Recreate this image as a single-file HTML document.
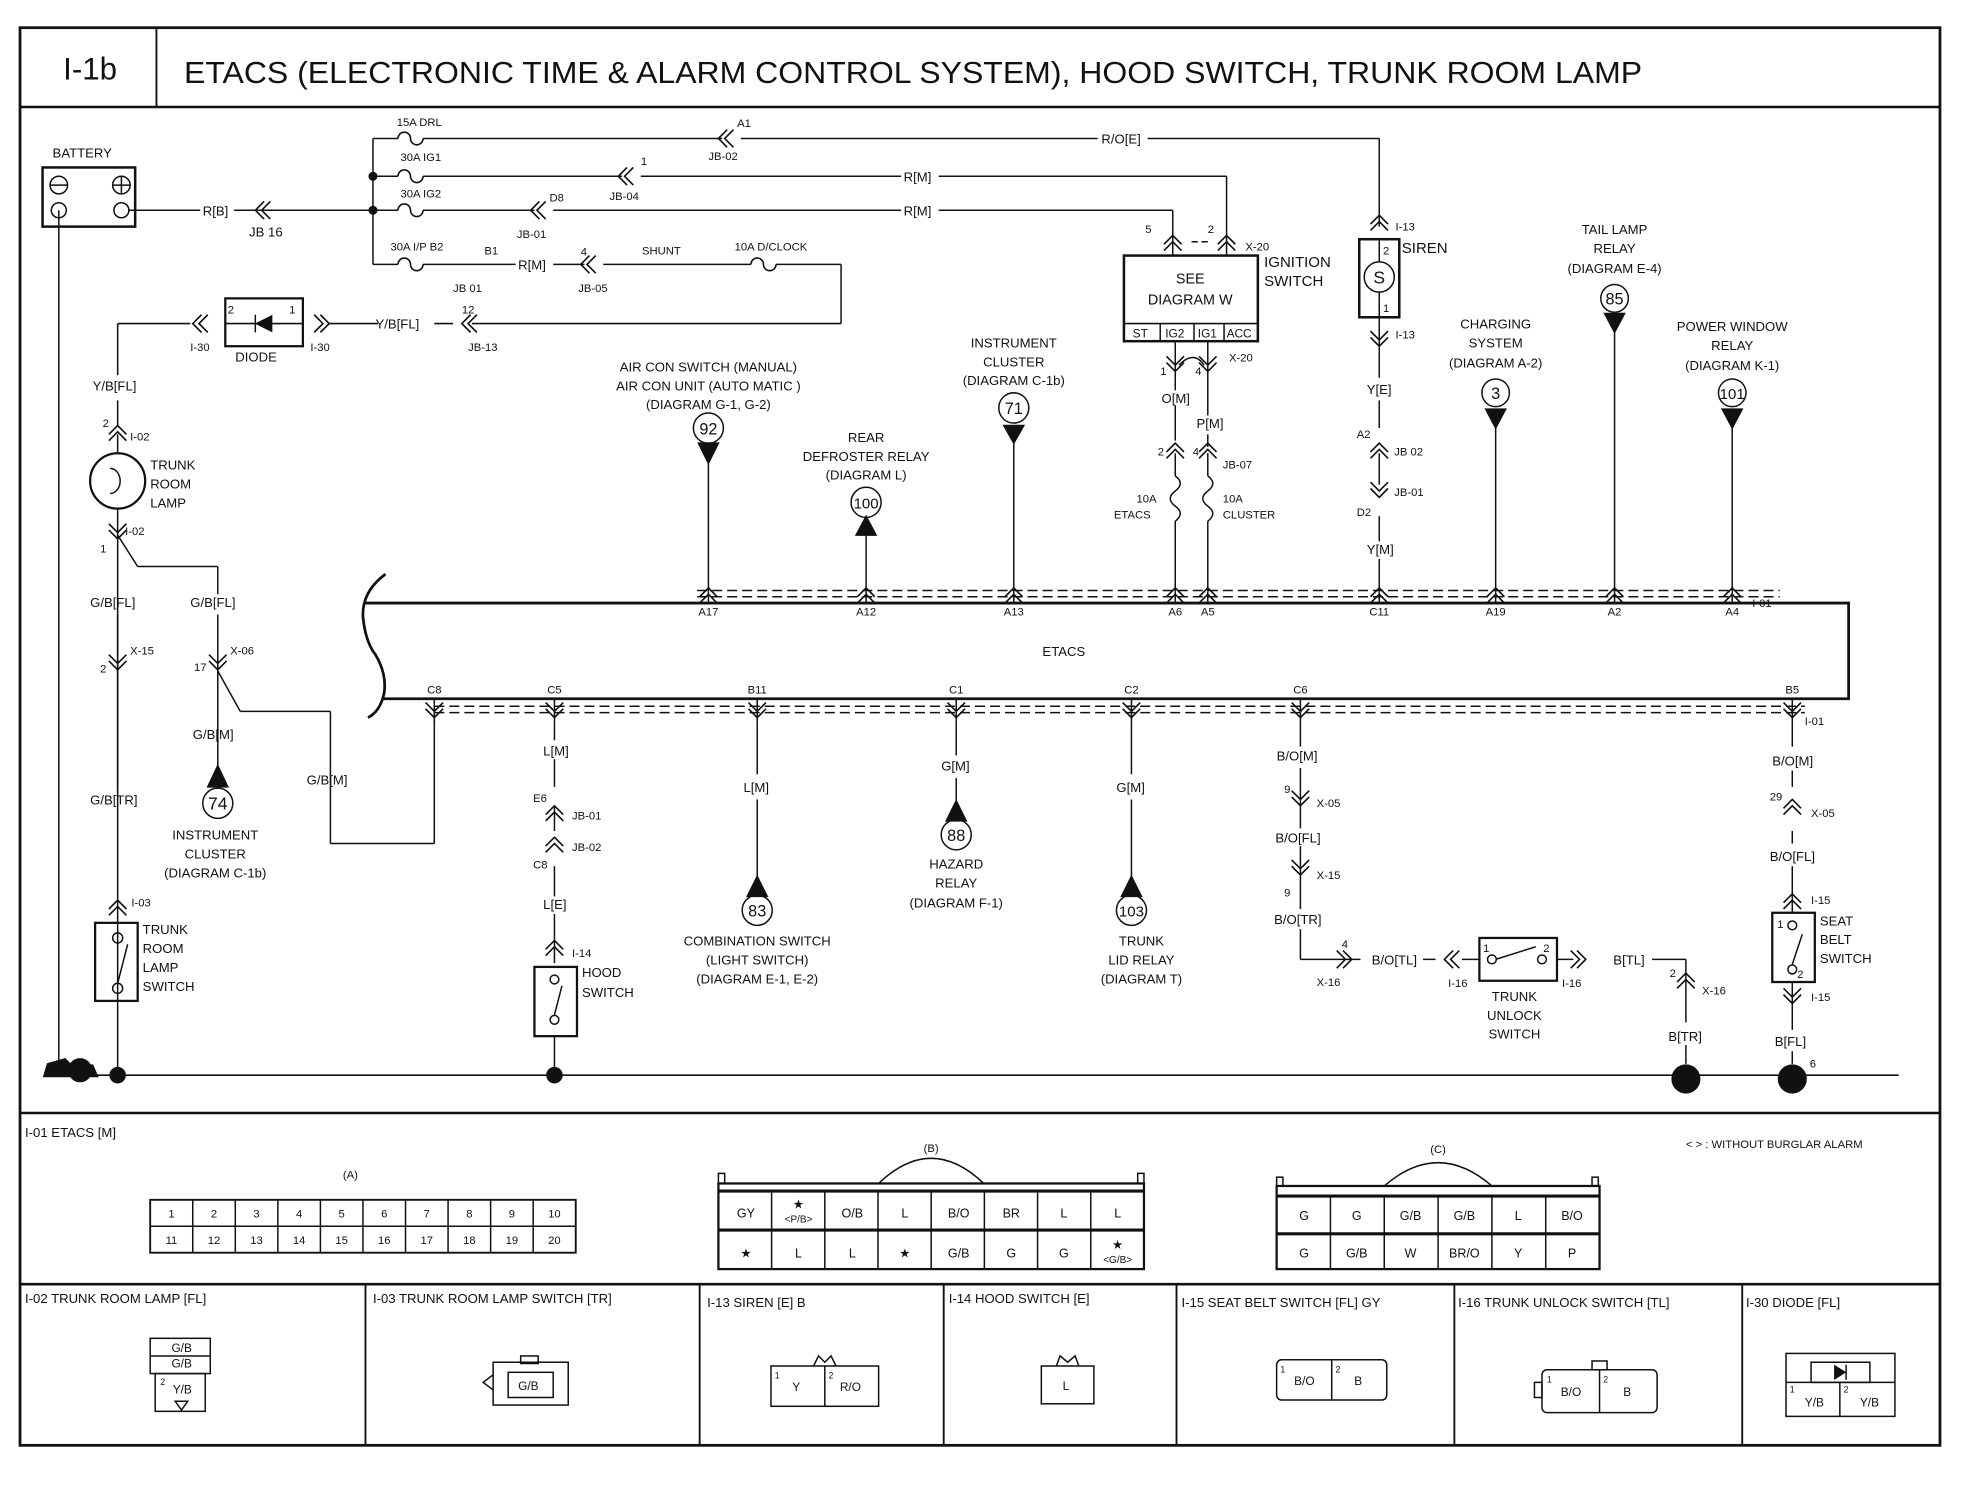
<!DOCTYPE html>
<html><head><meta charset="utf-8"><style>
html,body{margin:0;padding:0;background:#fff}
svg{display:block}
text{font-family:"Liberation Sans",sans-serif;fill:#111}
</style></head><body>
<svg width="1964" height="1504" viewBox="0 0 1964 1504" xmlns="http://www.w3.org/2000/svg">
<defs>
<path id="cv" d="M-7,-7 L0,0 L7,-7 M-7,-2 L0,5 L7,-2" fill="none" stroke="#111" stroke-width="1.3"/>
<path id="cu" d="M-7,7 L0,0 L7,7 M-7,2 L0,-5 L7,2" fill="none" stroke="#111" stroke-width="1.3"/>
<path id="cl" d="M4,-7 L-3,0 L4,7 M9,-7 L2,0 L9,7" fill="none" stroke="#111" stroke-width="1.3"/>
<path id="cr" d="M-4,-7 L3,0 L-4,7 M-9,-7 L-2,0 L-9,7" fill="none" stroke="#111" stroke-width="1.3"/>
<path id="fuse" d="M0,0 a5,5 0 1,1 10,0 a5,5 0 1,0 10,0" fill="none" stroke="#111" stroke-width="1.3"/>
</defs>
<g transform="translate(2.5,0) scale(1.2516,1.259)" stroke="#111" fill="none" stroke-width="1.2">
<!-- frame -->
<rect x="14" y="22" width="1534" height="1126" stroke-width="2.2"/>
<line x1="14" y1="85" x2="1548" y2="85" stroke-width="2"/>
<line x1="123" y1="22" x2="123" y2="85" stroke-width="1.5"/>
<g stroke="none">
<text x="70" y="63" font-size="25" text-anchor="middle">I-1b</text>
<text x="145" y="66" font-size="24" textLength="1165" lengthAdjust="spacingAndGlyphs">ETACS (ELECTRONIC TIME &amp; ALARM CONTROL SYSTEM), HOOD SWITCH, TRUNK ROOM LAMP</text>
</g>

<!-- battery -->
<rect x="32" y="133" width="74" height="47" stroke-width="2"/>
<circle cx="45" cy="147" r="7"/><line x1="38" y1="147" x2="52" y2="147"/>
<circle cx="95" cy="147" r="7"/><line x1="88" y1="147" x2="102" y2="147"/><line x1="95" y1="140" x2="95" y2="154"/>
<circle cx="45" cy="167" r="6"/><circle cx="95" cy="167" r="6"/>
<line x1="101" y1="167" x2="158" y2="167"/><line x1="185" y1="167" x2="296" y2="167"/>
<use href="#cl" x="205" y="167"/>
<line x1="45" y1="167" x2="45" y2="854"/>
<!-- fuse bus -->
<line x1="296" y1="110" x2="296" y2="210"/>
<circle cx="296" cy="140" r="3" fill="#111"/><circle cx="296" cy="167" r="3" fill="#111"/>
<line x1="296" y1="110" x2="316" y2="110"/><use href="#fuse" x="316" y="110"/><line x1="336" y1="110" x2="575" y2="110"/><line x1="590" y1="110" x2="875" y2="110"/><line x1="915" y1="110" x2="1100" y2="110"/><line x1="1100" y1="110" x2="1100" y2="180"/>
<use href="#cl" x="575" y="110"/>
<line x1="296" y1="140" x2="316" y2="140"/><use href="#fuse" x="316" y="140"/><line x1="336" y1="140" x2="495" y2="140"/><line x1="510" y1="140" x2="718" y2="140"/><line x1="748" y1="140" x2="978" y2="140"/><line x1="978" y1="140" x2="978" y2="203"/>
<use href="#cl" x="495" y="140"/>
<line x1="296" y1="167" x2="316" y2="167"/><use href="#fuse" x="316" y="167"/><line x1="336" y1="167" x2="425" y2="167"/><line x1="440" y1="167" x2="718" y2="167"/><line x1="748" y1="167" x2="935" y2="167"/><line x1="935" y1="167" x2="935" y2="203"/>
<use href="#cl" x="425" y="167"/>
<line x1="296" y1="210" x2="316" y2="210"/><use href="#fuse" x="316" y="210"/><line x1="336" y1="210" x2="410" y2="210"/><line x1="440" y1="210" x2="465" y2="210"/><line x1="480" y1="210" x2="598" y2="210"/>
<use href="#cl" x="465" y="210"/>
<use href="#fuse" x="598" y="210"/><line x1="618" y1="210" x2="670" y2="210"/><line x1="670" y1="210" x2="670" y2="257"/>
<line x1="670" y1="257" x2="375" y2="257"/><line x1="360" y1="257" x2="345" y2="257"/><line x1="300" y1="257" x2="260" y2="257"/>
<use href="#cl" x="370" y="257"/>
<!-- diode -->
<rect x="178" y="237" width="62" height="38" stroke-width="1.8"/>
<line x1="178" y1="257" x2="240" y2="257"/>
<path d="M215,251 L203,257 L215,263 Z" fill="#111"/><line x1="202" y1="250" x2="202" y2="264"/>
<use href="#cl" x="155" y="257"/><use href="#cr" x="258" y="257"/>
<line x1="92" y1="257" x2="150" y2="257"/>
<line x1="92" y1="257" x2="92" y2="298"/>
<line x1="92" y1="318" x2="92" y2="338"/><use href="#cu" x="92" y="343"/>
<line x1="92" y1="345" x2="92" y2="360"/>
<circle cx="92" cy="382" r="22" stroke-width="1.8"/>
<path d="M86,372 a8,10 0 1,1 0,20" /><line x1="92" y1="404" x2="92" y2="418"/>
<use href="#cv" x="92" y="423"/>
<line x1="92" y1="418" x2="92" y2="854"/>
<line x1="92" y1="425" x2="108" y2="450"/><line x1="108" y1="450" x2="172" y2="450"/><line x1="172" y1="450" x2="172" y2="472"/>
<line x1="172" y1="488" x2="172" y2="622"/><use href="#cv" x="172" y="527"/>
<line x1="172" y1="533" x2="190" y2="565"/><line x1="190" y1="565" x2="262" y2="565"/><line x1="262" y1="565" x2="262" y2="670"/><line x1="262" y1="670" x2="345" y2="670"/><line x1="345" y1="670" x2="345" y2="560"/>
<line x1="92" y1="488" x2="92" y2="628"/><use href="#cv" x="92" y="527"/>
<path d="M164,625 L172,608 L180,625 Z" fill="#111"/><circle cx="172" cy="638" r="12"/>
<!-- trunk room lamp switch -->
<use href="#cu" x="92" y="720"/>
<rect x="74" y="733" width="34" height="62" stroke-width="1.8"/>
<circle cx="92" cy="745" r="4"/><circle cx="92" cy="785" r="4"/><line x1="92" y1="781" x2="100" y2="750"/>
<!-- ground -->
<line x1="45" y1="854" x2="1515" y2="854"/>
<path d="M33,855 L36,845 L50,841 L55,846 L72,846 L76,855 Z" fill="#111"/><circle cx="62" cy="850" r="9" fill="#111"/>
<circle cx="92" cy="854" r="6" fill="#111"/><circle cx="441" cy="854" r="6" fill="#111"/>

<!-- ignition switch -->
<rect x="896" y="203" width="107" height="68" stroke-width="2"/>
<line x1="896" y1="257" x2="1003" y2="257"/>
<line x1="925" y1="257" x2="925" y2="271"/><line x1="952" y1="257" x2="952" y2="271"/><line x1="976" y1="257" x2="976" y2="271"/>
<use href="#cu" x="935" y="192"/><use href="#cu" x="978" y="192"/>
<line x1="950" y1="192" x2="965" y2="192" stroke-dasharray="5,3"/>
<use href="#cv" x="937" y="290"/><use href="#cv" x="963" y="290"/>
<path d="M940,290 q12,-12 20,0"/>
<line x1="937" y1="271" x2="937" y2="310"/><line x1="963" y1="271" x2="963" y2="330"/>
<line x1="937" y1="322" x2="937" y2="350"/><line x1="963" y1="345" x2="963" y2="355"/>
<use href="#cu" x="937" y="357"/><use href="#cu" x="963" y="357"/>
<line x1="937" y1="360" x2="937" y2="378"/><line x1="963" y1="360" x2="963" y2="378"/>
<path d="M937,378 q8,6 0,12 q-8,6 0,12 q8,6 0,12"/><path d="M963,378 q8,6 0,12 q-8,6 0,12 q8,6 0,12"/>
<line x1="937" y1="414" x2="937" y2="470"/><line x1="963" y1="414" x2="963" y2="470"/>
<!-- siren -->
<use href="#cu" x="1100" y="176"/>
<rect x="1084" y="190" width="32" height="62" stroke-width="2"/>
<circle cx="1100" cy="220" r="12"/><line x1="1100" y1="190" x2="1100" y2="208"/><line x1="1100" y1="232" x2="1100" y2="252"/>
<use href="#cv" x="1100" y="270"/>
<line x1="1100" y1="252" x2="1100" y2="300"/><line x1="1100" y1="318" x2="1100" y2="340"/><line x1="1100" y1="410" x2="1100" y2="430"/><line x1="1100" y1="444" x2="1100" y2="470"/>
<use href="#cu" x="1100" y="357"/><use href="#cv" x="1100" y="390"/>
<line x1="1100" y1="360" x2="1100" y2="385"/>
<!-- upper feed wires -->
<line x1="564" y1="368" x2="564" y2="470"/><path d="M556,352 L564,368 L572,352 Z" fill="#111"/><circle cx="564" cy="340" r="12"/>
<line x1="690" y1="425" x2="690" y2="470"/><path d="M682,425 L690,410 L698,425 Z" fill="#111"/><circle cx="690" cy="399" r="12"/>
<line x1="808" y1="350" x2="808" y2="470"/><path d="M800,338 L808,352 L816,338 Z" fill="#111"/><circle cx="808" cy="324" r="12"/>
<line x1="1193" y1="338" x2="1193" y2="470"/><path d="M1185,325 L1193,340 L1201,325 Z" fill="#111"/><circle cx="1193" cy="312" r="11"/>
<line x1="1288" y1="262" x2="1288" y2="470"/><path d="M1280,249 L1288,264 L1296,249 Z" fill="#111"/><circle cx="1288" cy="237" r="11"/>
<line x1="1382" y1="338" x2="1382" y2="470"/><path d="M1374,325 L1382,340 L1390,325 Z" fill="#111"/><circle cx="1382" cy="312" r="11"/>
<!-- ETACS -->
<path d="M290,479 L1475,479 L1475,555 L335,555" stroke-width="2.2"/>
<path d="M306,456 Q287,470 288,490 Q290,510 298,520 Q307,535 305,550 Q302,565 292,570" stroke-width="2.2"/>
<line x1="303" y1="555" x2="335" y2="555" stroke-width="2.2"/>
<line x1="555" y1="469" x2="1420" y2="469" stroke-dasharray="8,4"/>
<line x1="555" y1="474" x2="1420" y2="474" stroke-dasharray="8,4"/>
<line x1="345" y1="561" x2="1440" y2="561" stroke-dasharray="8,4"/>
<line x1="345" y1="566" x2="1440" y2="566" stroke-dasharray="8,4"/>
<g>
<use href="#cu" x="564" y="472"/><use href="#cu" x="690" y="472"/><use href="#cu" x="808" y="472"/><use href="#cu" x="937" y="472"/><use href="#cu" x="963" y="472"/><use href="#cu" x="1100" y="472"/><use href="#cu" x="1193" y="472"/><use href="#cu" x="1288" y="472"/><use href="#cu" x="1382" y="472"/>
<use href="#cv" x="345" y="565"/><use href="#cv" x="441" y="565"/><use href="#cv" x="603" y="565"/><use href="#cv" x="762" y="565"/><use href="#cv" x="902" y="565"/><use href="#cv" x="1037" y="565"/><use href="#cv" x="1430" y="565"/>
</g>
<line x1="564" y1="470" x2="564" y2="479"/><line x1="690" y1="470" x2="690" y2="479"/><line x1="808" y1="470" x2="808" y2="479"/><line x1="937" y1="470" x2="937" y2="479"/><line x1="963" y1="470" x2="963" y2="479"/><line x1="1100" y1="470" x2="1100" y2="479"/><line x1="1193" y1="470" x2="1193" y2="479"/><line x1="1288" y1="470" x2="1288" y2="479"/><line x1="1382" y1="470" x2="1382" y2="479"/>
<path d="M345,555v20M441,555v20M603,555v20M762,555v20M902,555v20M1037,555v20M1430,555v20"/>
<!-- lower feed wires -->
<line x1="441" y1="575" x2="441" y2="588"/><line x1="441" y1="603" x2="441" y2="625"/><line x1="441" y1="640" x2="441" y2="660"/><line x1="441" y1="688" x2="441" y2="712"/><line x1="441" y1="726" x2="441" y2="765"/>
<use href="#cu" x="441" y="645"/><use href="#cu" x="441" y="670"/><use href="#cu" x="441" y="752"/>
<rect x="425" y="768" width="34" height="55" stroke-width="1.8"/>
<circle cx="441" cy="778" r="3.5"/><circle cx="441" cy="810" r="3.5"/><line x1="441" y1="806" x2="447" y2="783"/>
<line x1="441" y1="823" x2="441" y2="854"/>
<line x1="603" y1="575" x2="603" y2="615"/><line x1="603" y1="635" x2="603" y2="700"/><path d="M595,712 L603,696 L611,712 Z" fill="#111"/><circle cx="603" cy="723" r="12"/>
<line x1="762" y1="575" x2="762" y2="600"/><line x1="762" y1="618" x2="762" y2="640"/><path d="M754,652 L762,636 L770,652 Z" fill="#111"/><circle cx="762" cy="663" r="12"/>
<line x1="902" y1="575" x2="902" y2="615"/><line x1="902" y1="635" x2="902" y2="700"/><path d="M894,712 L902,696 L910,712 Z" fill="#111"/><circle cx="902" cy="723" r="12"/>
<!-- B/O trunk unlock -->
<line x1="1037" y1="575" x2="1037" y2="593"/><line x1="1037" y1="610" x2="1037" y2="658"/><line x1="1037" y1="672" x2="1037" y2="722"/><line x1="1037" y1="738" x2="1037" y2="762"/>
<use href="#cv" x="1037" y="635"/><use href="#cv" x="1037" y="690"/>
<line x1="1037" y1="762" x2="1085" y2="762"/><use href="#cr" x="1075" y="762"/>
<line x1="1135" y1="762" x2="1145" y2="762"/><use href="#cl" x="1155" y="762"/>
<rect x="1180" y="745" width="62" height="34" stroke-width="1.8"/>
<circle cx="1190" cy="762" r="3.5"/><circle cx="1230" cy="762" r="3.5"/><line x1="1193" y1="762" x2="1225" y2="752"/>
<line x1="1166" y1="762" x2="1180" y2="762"/><line x1="1242" y1="762" x2="1255" y2="762"/><use href="#cr" x="1262" y="762"/>
<line x1="1318" y1="762" x2="1345" y2="762"/><line x1="1345" y1="762" x2="1345" y2="812"/><line x1="1345" y1="830" x2="1345" y2="845"/>
<use href="#cu" x="1345" y="778"/>
<circle cx="1345" cy="857" r="11" fill="#111"/>
<!-- seat belt -->
<line x1="1430" y1="575" x2="1430" y2="593"/><line x1="1430" y1="612" x2="1430" y2="625"/><line x1="1430" y1="660" x2="1430" y2="670"/><line x1="1430" y1="688" x2="1430" y2="725"/>
<use href="#cu" x="1430" y="640"/><use href="#cu" x="1430" y="715"/>
<rect x="1414" y="725" width="34" height="55" stroke-width="1.8"/>
<circle cx="1430" cy="735" r="3.5"/><circle cx="1430" cy="770" r="3.5"/><line x1="1430" y1="766" x2="1438" y2="742"/>
<line x1="1430" y1="780" x2="1430" y2="818"/><line x1="1430" y1="835" x2="1430" y2="845"/><use href="#cv" x="1430" y="792"/>
<circle cx="1430" cy="857" r="11" fill="#111"/>

<!-- lower tables -->
<line x1="14" y1="884" x2="1548" y2="884" stroke-width="2"/>
<line x1="14" y1="1020" x2="1548" y2="1020" stroke-width="2"/>
<line x1="290" y1="1020" x2="290" y2="1148" stroke-width="1.5"/><line x1="557" y1="1020" x2="557" y2="1148" stroke-width="1.5"/><line x1="752" y1="1020" x2="752" y2="1148" stroke-width="1.5"/><line x1="938" y1="1020" x2="938" y2="1148" stroke-width="1.5"/><line x1="1160" y1="1020" x2="1160" y2="1148" stroke-width="1.5"/><line x1="1390" y1="1020" x2="1390" y2="1148" stroke-width="1.5"/>
<!-- A grid -->
<rect x="118" y="953" width="340" height="42" stroke-width="1.5"/>
<line x1="118" y1="974" x2="458" y2="974"/>
<path d="M152,953v42M186,953v42M220,953v42M254,953v42M288,953v42M322,953v42M356,953v42M390,953v42M424,953v42"/>
<!-- B grid -->
<rect x="572" y="940" width="340" height="68" stroke-width="1.8"/>
<rect x="572" y="932" width="5" height="8"/><rect x="907" y="932" width="5" height="8"/>
<line x1="572" y1="946" x2="912" y2="946" stroke-width="2.5"/><line x1="572" y1="977" x2="912" y2="977" stroke-width="2.5"/>
<path d="M614.5,946v62M657,946v62M699.5,946v62M742,946v62M784.5,946v62M827,946v62M869.5,946v62"/>
<path d="M700,940 Q742,900 784,940"/>
<!-- C grid -->
<rect x="1018" y="942" width="258" height="66" stroke-width="1.8"/>
<rect x="1018" y="935" width="5" height="7"/><rect x="1270" y="935" width="5" height="7"/>
<line x1="1018" y1="950" x2="1276" y2="950" stroke-width="2.5"/><line x1="1018" y1="980" x2="1276" y2="980" stroke-width="2.5"/>
<path d="M1061,950v58M1104,950v58M1147,950v58M1190,950v58M1233,950v58"/>
<path d="M1104,942 Q1147,905 1190,942"/>
<!-- small connectors -->
<rect x="118" y="1063" width="48" height="28"/><line x1="118" y1="1077" x2="166" y2="1077"/>
<rect x="122" y="1091" width="40" height="30"/><path d="M138,1113 l5,7 l5,-7z"/>
<rect x="392" y="1082" width="60" height="34"/><rect x="404" y="1090" width="36" height="20"/><rect x="414" y="1077" width="14" height="6"/><path d="M392,1092 l-8,6 l8,6"/>
<rect x="614" y="1085" width="86" height="32"/><line x1="657" y1="1085" x2="657" y2="1117"/><path d="M648,1085 l4,-8 l5,5 l5,-5 l4,8"/>
<rect x="830" y="1085" width="42" height="30"/><path d="M842,1085 l3,-8 l6,5 l6,-5 l3,8"/>
<rect x="1018" y="1080" width="88" height="32" rx="4"/><line x1="1062" y1="1080" x2="1062" y2="1112"/>
<rect x="1230" y="1088" width="92" height="34" rx="4"/><line x1="1276" y1="1088" x2="1276" y2="1122"/><rect x="1270" y="1081" width="12" height="7"/><rect x="1224" y="1098" width="6" height="12"/>
<rect x="1425" y="1075" width="87" height="50"/><line x1="1425" y1="1098" x2="1512" y2="1098"/><line x1="1468" y1="1098" x2="1468" y2="1125"/><rect x="1445" y="1082" width="47" height="16"/><path d="M1464,1085 l8,5 l-8,5z" fill="#111"/><line x1="1473" y1="1084" x2="1473" y2="1096"/>
</g>

<g transform="translate(2.5,0) scale(1.2516,1.259)" font-size="10.5">
<text x="40" y="125">BATTERY</text>
<text x="160" y="171">R[B]</text><text x="197" y="188">JB 16</text>
<text x="315" y="100" font-size="9">15A DRL</text><text x="587" y="101" font-size="9">A1</text><text x="564" y="127" font-size="9">JB-02</text><text x="878" y="114">R/O[E]</text>
<text x="318" y="128" font-size="9">30A IG1</text><text x="510" y="131" font-size="9">1</text><text x="485" y="159" font-size="9">JB-04</text><text x="720" y="144">R[M]</text>
<text x="318" y="157" font-size="9">30A IG2</text><text x="437" y="160" font-size="9">D8</text><text x="411" y="189" font-size="9">JB-01</text><text x="720" y="171">R[M]</text>
<text x="310" y="199" font-size="9">30A I/P B2</text><text x="385" y="202" font-size="9">B1</text><text x="360" y="232" font-size="9">JB 01</text><text x="412" y="214">R[M]</text><text x="462" y="203" font-size="9">4</text><text x="460" y="232" font-size="9">JB-05</text>
<text x="511" y="202" font-size="9">SHUNT</text><text x="585" y="199" font-size="9">10A D/CLOCK</text>
<text x="367" y="249" font-size="9">12</text><text x="372" y="279" font-size="9">JB-13</text><text x="298" y="261">Y/B[FL]</text>
<text x="180" y="249" font-size="9">2</text><text x="229" y="249" font-size="9">1</text><text x="186" y="287">DIODE</text><text x="150" y="279" font-size="9">I-30</text><text x="246" y="279" font-size="9">I-30</text>
<text x="72" y="310">Y/B[FL]</text><text x="80" y="339" font-size="9">2</text><text x="102" y="350" font-size="9">I-02</text>
<text x="118" y="373">TRUNK</text><text x="118" y="388">ROOM</text><text x="118" y="403">LAMP</text>
<text x="78" y="439" font-size="9">1</text><text x="98" y="425" font-size="9">I-02</text>
<text x="70" y="482">G/B[FL]</text><text x="150" y="482">G/B[FL]</text>
<text x="102" y="520" font-size="9">X-15</text><text x="78" y="534" font-size="9">2</text>
<text x="182" y="520" font-size="9">X-06</text><text x="153" y="533" font-size="9">17</text>
<text x="152" y="587">G/B[M]</text><text x="243" y="623">G/B[M]</text><text x="70" y="639">G/B[TR]</text>
<text x="172" y="643" font-size="14" text-anchor="middle">74</text>
<text x="170" y="667" text-anchor="middle">INSTRUMENT</text><text x="170" y="682" text-anchor="middle">CLUSTER</text><text x="170" y="697" text-anchor="middle">(DIAGRAM C-1b)</text>
<text x="103" y="720" font-size="9">I-03</text>
<text x="112" y="742">TRUNK</text><text x="112" y="757">ROOM</text><text x="112" y="772">LAMP</text><text x="112" y="787">SWITCH</text>
<text x="62" y="855" font-size="11" text-anchor="middle" fill="#fff">G</text>

<text x="949" y="225" font-size="11.5" text-anchor="middle">SEE</text><text x="949" y="242" font-size="11.5" text-anchor="middle">DIAGRAM  W</text>
<text x="903" y="268" font-size="9.5">ST</text><text x="929" y="268" font-size="9.5">IG2</text><text x="955" y="268" font-size="9.5">IG1</text><text x="978" y="268" font-size="9.5">ACC</text>
<text x="913" y="185" font-size="9">5</text><text x="963" y="185" font-size="9">2</text><text x="993" y="199" font-size="9">X-20</text>
<text x="1008" y="212" font-size="12">IGNITION</text><text x="1008" y="227" font-size="12">SWITCH</text>
<text x="925" y="298" font-size="9">1</text><text x="953" y="298" font-size="9">4</text><text x="980" y="287" font-size="9">X-20</text>
<text x="926" y="320">O[M]</text><text x="954" y="340">P[M]</text>
<text x="923" y="362" font-size="9">2</text><text x="951" y="362" font-size="9">4</text><text x="975" y="372" font-size="9">JB-07</text>
<text x="906" y="399" font-size="9">10A</text><text x="888" y="412" font-size="9">ETACS</text><text x="975" y="399" font-size="9">10A</text><text x="975" y="412" font-size="9">CLUSTER</text>
<text x="1113" y="183" font-size="9">I-13</text><text x="1103" y="202" font-size="9">2</text><text x="1118" y="201" font-size="12">SIREN</text>
<text x="1100" y="225" font-size="14" text-anchor="middle">S</text><text x="1103" y="248" font-size="9">1</text><text x="1113" y="269" font-size="9">I-13</text>
<text x="1090" y="313">Y[E]</text><text x="1082" y="348" font-size="9">A2</text><text x="1112" y="362" font-size="9">JB 02</text><text x="1112" y="394" font-size="9">JB-01</text><text x="1082" y="410" font-size="9">D2</text><text x="1090" y="440">Y[M]</text>

<text x="564" y="295" text-anchor="middle">AIR CON SWITCH (MANUAL)</text><text x="564" y="310" text-anchor="middle">AIR CON UNIT (AUTO MATIC )</text><text x="564" y="325" text-anchor="middle">(DIAGRAM G-1, G-2)</text><text x="564" y="345" font-size="13" text-anchor="middle">92</text>
<text x="690" y="351" text-anchor="middle">REAR</text><text x="690" y="366" text-anchor="middle">DEFROSTER RELAY</text><text x="690" y="381" text-anchor="middle">(DIAGRAM L)</text><text x="690" y="404" font-size="12" text-anchor="middle">100</text>
<text x="808" y="276" text-anchor="middle">INSTRUMENT</text><text x="808" y="291" text-anchor="middle">CLUSTER</text><text x="808" y="306" text-anchor="middle">(DIAGRAM C-1b)</text><text x="808" y="329" font-size="13" text-anchor="middle">71</text>
<text x="1193" y="261" text-anchor="middle">CHARGING</text><text x="1193" y="276" text-anchor="middle">SYSTEM</text><text x="1193" y="292" text-anchor="middle">(DIAGRAM A-2)</text><text x="1193" y="317" font-size="13" text-anchor="middle">3</text>
<text x="1288" y="186" text-anchor="middle">TAIL LAMP</text><text x="1288" y="201" text-anchor="middle">RELAY</text><text x="1288" y="217" text-anchor="middle">(DIAGRAM E-4)</text><text x="1288" y="242" font-size="13" text-anchor="middle">85</text>
<text x="1382" y="263" text-anchor="middle">POWER WINDOW</text><text x="1382" y="278" text-anchor="middle">RELAY</text><text x="1382" y="294" text-anchor="middle">(DIAGRAM K-1)</text><text x="1382" y="317" font-size="12" text-anchor="middle">101</text>

<text x="564" y="489" font-size="9" text-anchor="middle">A17</text><text x="690" y="489" font-size="9" text-anchor="middle">A12</text><text x="808" y="489" font-size="9" text-anchor="middle">A13</text><text x="937" y="489" font-size="9" text-anchor="middle">A6</text><text x="963" y="489" font-size="9" text-anchor="middle">A5</text><text x="1100" y="489" font-size="9" text-anchor="middle">C11</text><text x="1193" y="489" font-size="9" text-anchor="middle">A19</text><text x="1288" y="489" font-size="9" text-anchor="middle">A2</text><text x="1382" y="489" font-size="9" text-anchor="middle">A4</text><text x="1398" y="482" font-size="9">I-01</text>
<text x="848" y="521" text-anchor="middle">ETACS</text>
<text x="345" y="551" font-size="9" text-anchor="middle">C8</text><text x="441" y="551" font-size="9" text-anchor="middle">C5</text><text x="603" y="551" font-size="9" text-anchor="middle">B11</text><text x="762" y="551" font-size="9" text-anchor="middle">C1</text><text x="902" y="551" font-size="9" text-anchor="middle">C2</text><text x="1037" y="551" font-size="9" text-anchor="middle">C6</text><text x="1430" y="551" font-size="9" text-anchor="middle">B5</text><text x="1440" y="576" font-size="9">I-01</text>

<text x="432" y="600">L[M]</text><text x="424" y="637" font-size="9">E6</text><text x="455" y="651" font-size="9">JB-01</text><text x="424" y="690" font-size="9">C8</text><text x="455" y="676" font-size="9">JB-02</text><text x="432" y="722">L[E]</text><text x="455" y="760" font-size="9">I-14</text>
<text x="463" y="776">HOOD</text><text x="463" y="792">SWITCH</text>
<text x="592" y="629">L[M]</text><text x="603" y="728" font-size="13" text-anchor="middle">83</text>
<text x="603" y="751" text-anchor="middle">COMBINATION SWITCH</text><text x="603" y="766" text-anchor="middle">(LIGHT SWITCH)</text><text x="603" y="781" text-anchor="middle">(DIAGRAM E-1, E-2)</text>
<text x="750" y="612">G[M]</text><text x="762" y="668" font-size="13" text-anchor="middle">88</text>
<text x="762" y="690" text-anchor="middle">HAZARD</text><text x="762" y="705" text-anchor="middle">RELAY</text><text x="762" y="721" text-anchor="middle">(DIAGRAM F-1)</text>
<text x="890" y="629">G[M]</text><text x="902" y="728" font-size="12" text-anchor="middle">103</text>
<text x="910" y="751" text-anchor="middle">TRUNK</text><text x="910" y="766" text-anchor="middle">LID RELAY</text><text x="910" y="781" text-anchor="middle">(DIAGRAM T)</text>
<text x="1018" y="604">B/O[M]</text><text x="1024" y="630" font-size="9">9</text><text x="1050" y="641" font-size="9">X-05</text><text x="1017" y="669">B/O[FL]</text><text x="1024" y="712" font-size="9">9</text><text x="1050" y="698" font-size="9">X-15</text><text x="1016" y="734">B/O[TR]</text>
<text x="1070" y="753" font-size="9">4</text><text x="1050" y="783" font-size="9">X-16</text><text x="1094" y="766">B/O[TL]</text>
<text x="1155" y="784" font-size="9">I-16</text><text x="1183" y="756" font-size="9">1</text><text x="1231" y="756" font-size="9">2</text><text x="1246" y="784" font-size="9">I-16</text>
<text x="1208" y="795" text-anchor="middle">TRUNK</text><text x="1208" y="810" text-anchor="middle">UNLOCK</text><text x="1208" y="825" text-anchor="middle">SWITCH</text>
<text x="1287" y="766">B[TL]</text><text x="1332" y="776" font-size="9">2</text><text x="1358" y="790" font-size="9">X-16</text><text x="1331" y="827">B[TR]</text>
<text x="1345" y="862" font-size="13" text-anchor="middle" fill="#fff">20</text>
<text x="1414" y="608">B/O[M]</text><text x="1412" y="636" font-size="9">29</text><text x="1445" y="649" font-size="9">X-05</text><text x="1412" y="684">B/O[FL]</text><text x="1445" y="718" font-size="9">I-15</text>
<text x="1418" y="737" font-size="9">1</text><text x="1434" y="777" font-size="9">2</text><text x="1452" y="735">SEAT</text><text x="1452" y="750">BELT</text><text x="1452" y="765">SWITCH</text>
<text x="1445" y="795" font-size="9">I-15</text><text x="1416" y="831">B[FL]</text><text x="1444" y="848" font-size="9">6</text>
<text x="1430" y="862" font-size="13" text-anchor="middle" fill="#fff">14</text>

<text x="18" y="903">I-01 ETACS [M]</text><text x="272" y="936" font-size="9">(A)</text><text x="742" y="915" font-size="9" text-anchor="middle">(B)</text><text x="1147" y="916" font-size="9" text-anchor="middle">(C)</text>
<text x="1345" y="912" font-size="9">&lt;  &gt; : WITHOUT BURGLAR ALARM</text>
<g font-size="9" text-anchor="middle">
<text x="135" y="967">1</text><text x="169" y="967">2</text><text x="203" y="967">3</text><text x="237" y="967">4</text><text x="271" y="967">5</text><text x="305" y="967">6</text><text x="339" y="967">7</text><text x="373" y="967">8</text><text x="407" y="967">9</text><text x="441" y="967">10</text>
<text x="135" y="988">11</text><text x="169" y="988">12</text><text x="203" y="988">13</text><text x="237" y="988">14</text><text x="271" y="988">15</text><text x="305" y="988">16</text><text x="339" y="988">17</text><text x="373" y="988">18</text><text x="407" y="988">19</text><text x="441" y="988">20</text>
</g>
<g font-size="10" text-anchor="middle">
<text x="594" y="967">GY</text><text x="636" y="960">★</text><text x="636" y="971" font-size="8">&lt;P/B&gt;</text><text x="679" y="967">O/B</text><text x="721" y="967">L</text><text x="764" y="967">B/O</text><text x="806" y="967">BR</text><text x="848" y="967">L</text><text x="891" y="967">L</text>
<text x="594" y="999">★</text><text x="636" y="999">L</text><text x="679" y="999">L</text><text x="721" y="999">★</text><text x="764" y="999">G/B</text><text x="806" y="999">G</text><text x="848" y="999">G</text><text x="891" y="992">★</text><text x="891" y="1003" font-size="8">&lt;G/B&gt;</text>
<text x="1040" y="969">G</text><text x="1082" y="969">G</text><text x="1125" y="969">G/B</text><text x="1168" y="969">G/B</text><text x="1211" y="969">L</text><text x="1254" y="969">B/O</text>
<text x="1040" y="999">G</text><text x="1082" y="999">G/B</text><text x="1125" y="999">W</text><text x="1168" y="999">BR/O</text><text x="1211" y="999">Y</text><text x="1254" y="999">P</text>
</g>
<g font-size="10.5">
<text x="18" y="1035">I-02 TRUNK ROOM LAMP [FL]</text><text x="296" y="1035">I-03 TRUNK ROOM LAMP SWITCH [TR]</text><text x="563" y="1038">I-13 SIREN [E] B</text><text x="756" y="1035">I-14 HOOD SWITCH [E]</text><text x="942" y="1038">I-15 SEAT BELT SWITCH [FL] GY</text><text x="1163" y="1038">I-16 TRUNK UNLOCK SWITCH [TL]</text><text x="1393" y="1038">I-30 DIODE [FL]</text>
</g>
<g font-size="9.5">
<text x="135" y="1074">G/B</text><text x="135" y="1086">G/B</text><text x="126" y="1100" font-size="7">2</text><text x="136" y="1107">Y/B</text>
<text x="412" y="1104">G/B</text>
<text x="631" y="1105">Y</text><text x="669" y="1105">R/O</text><text x="617" y="1095" font-size="7">1</text><text x="660" y="1095" font-size="7">2</text>
<text x="847" y="1104">L</text>
<text x="1032" y="1100">B/O</text><text x="1080" y="1100">B</text><text x="1021" y="1090" font-size="7">1</text><text x="1065" y="1090" font-size="7">2</text>
<text x="1245" y="1109">B/O</text><text x="1295" y="1109">B</text><text x="1234" y="1098" font-size="7">1</text><text x="1279" y="1098" font-size="7">2</text>
<text x="1440" y="1117">Y/B</text><text x="1484" y="1117">Y/B</text><text x="1428" y="1106" font-size="7">1</text><text x="1471" y="1106" font-size="7">2</text>
</g>
</g>
</svg>
</body></html>
